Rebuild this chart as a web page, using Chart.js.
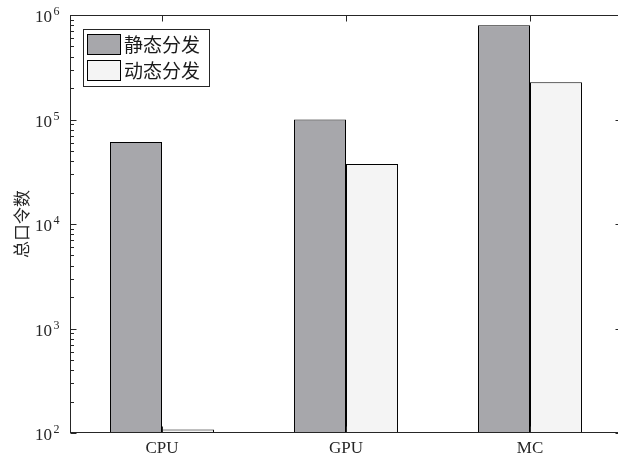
<!DOCTYPE html>
<html>
<head>
<meta charset="utf-8">
<script src="https://cdn.jsdelivr.net/npm/chart.js@4/dist/chart.umd.min.js"></script>
<style>
  html, body { margin: 0; padding: 0; background: #fff; overflow: hidden; }
  #wrap { width: 630px; height: 462px; }
</style>
</head>
<body>
<div id="wrap"><canvas id="c" width="630" height="462"></canvas></div>
<script>
// Platforms on the x axis
const categories = ['CPU', 'GPU', 'MC'];
// Total password counts per platform
const staticDispatch = [61000, 100000, 800000];
const dynamicDispatch = [108, 37500, 227000];
const seriesNames = ['静态分发', '动态分发'];
// Decade exponents labelled on the log axis
const yExponents = [2, 3, 4, 5, 6];
const yTitle = '总口令数';

const SERIF = '"Liberation Serif", "DejaVu Serif", serif';
const CJK = '"Noto Sans CJK SC", "Noto Sans", sans-serif';
const AXIS = '#262626';
const DARK = '#a7a7ab';
const LIGHT = '#f4f4f4';

// Draws the axes box, inward ticks, superscript labels, title and legend
const frame = {
  id: 'frame',
  afterDatasetsDraw(chart) {
    const ctx = chart.ctx;
    const a = chart.chartArea;
    const y = chart.scales.y;
    const x = chart.scales.x;
    ctx.save();
    ctx.strokeStyle = AXIS;
    ctx.lineWidth = 1;
    const L = Math.round(a.left) + 0.5, R = Math.round(a.right) - 0.5;
    const T = Math.round(a.top) + 0.5, B = Math.round(a.bottom) - 0.5;
    ctx.strokeRect(L, T, R - L, B - T);

    ctx.beginPath();
    // major and minor ticks on the log axis, left and right sides
    yExponents.forEach((e, i) => {
      const base = Math.pow(10, e);
      const py = Math.round(y.getPixelForValue(base)) + 0.5;
      ctx.moveTo(L, py); ctx.lineTo(L + 6, py);
      ctx.moveTo(R, py); ctx.lineTo(R - 6, py);
      if (i < yExponents.length - 1) {
        for (let m = 2; m <= 9; m++) {
          const my = Math.round(y.getPixelForValue(m * base)) + 0.5;
          ctx.moveTo(L, my); ctx.lineTo(L + 3.5, my);
          ctx.moveTo(R, my); ctx.lineTo(R - 3.5, my);
        }
      }
    });
    // category ticks, bottom and top
    categories.forEach((c, i) => {
      const px = Math.round(x.getPixelForValue(i)) + 0.5;
      ctx.moveTo(px, B); ctx.lineTo(px, B - 6);
      ctx.moveTo(px, T); ctx.lineTo(px, T + 6);
    });
    ctx.stroke();

    // y tick labels as 10 with superscript exponent
    ctx.fillStyle = '#262626';
    ctx.textBaseline = 'middle';
    yExponents.forEach(e => {
      const py = y.getPixelForValue(Math.pow(10, e));
      ctx.font = '17px ' + SERIF;
      ctx.textAlign = 'right';
      ctx.fillText('10', 52, py + 3);
      ctx.font = '12px ' + SERIF;
      ctx.textAlign = 'left';
      ctx.fillText(String(e), 53.5, py - 3);
    });

    // category labels
    ctx.font = '17px ' + SERIF;
    ctx.textAlign = 'center';
    categories.forEach((c, i) => {
      ctx.fillText(c, x.getPixelForValue(i), 449);
    });

    // rotated axis title
    ctx.save();
    ctx.translate(22, (a.top + a.bottom) / 2);
    ctx.rotate(-Math.PI / 2);
    ctx.font = '17px ' + CJK;
    ctx.textAlign = 'center';
    ctx.fillText(yTitle, 0, 0);
    ctx.restore();

    // legend box
    ctx.fillStyle = '#fff';
    ctx.fillRect(83.5, 29.5, 126, 57);
    ctx.strokeStyle = AXIS;
    ctx.strokeRect(83.5, 29.5, 126, 57);
    const fills = [DARK, LIGHT];
    const rows = [34.5, 60.5];
    seriesNames.forEach((name, i) => {
      ctx.fillStyle = fills[i];
      ctx.fillRect(87.5, rows[i], 33, 20);
      ctx.strokeStyle = '#000';
      ctx.strokeRect(87.5, rows[i], 33, 20);
      ctx.fillStyle = '#1a1a1a';
      ctx.font = '19px ' + CJK;
      ctx.textAlign = 'left';
      ctx.textBaseline = 'middle';
      ctx.fillText(name, 124, rows[i] + 10.5);
    });
    ctx.restore();
  }
};

new Chart(document.getElementById('c'), {
  type: 'bar',
  data: {
    labels: categories,
    datasets: [
      { label: seriesNames[0], data: staticDispatch, backgroundColor: DARK,
        borderColor: '#000', borderWidth: 1, categoryPercentage: 0.565, barPercentage: 1 },
      { label: seriesNames[1], data: dynamicDispatch, backgroundColor: LIGHT,
        borderColor: '#000', borderWidth: 1, categoryPercentage: 0.565, barPercentage: 1 }
    ]
  },
  options: {
    responsive: false,
    animation: false,
    layout: { padding: { left: 70, right: 8, top: 15, bottom: 29 } },
    plugins: { legend: { display: false }, tooltip: { enabled: false } },
    scales: {
      x: { display: false, offset: true },
      y: { type: 'logarithmic', display: false, min: 100, max: 1000000 }
    }
  },
  plugins: [frame]
});
</script>
</body>
</html>
